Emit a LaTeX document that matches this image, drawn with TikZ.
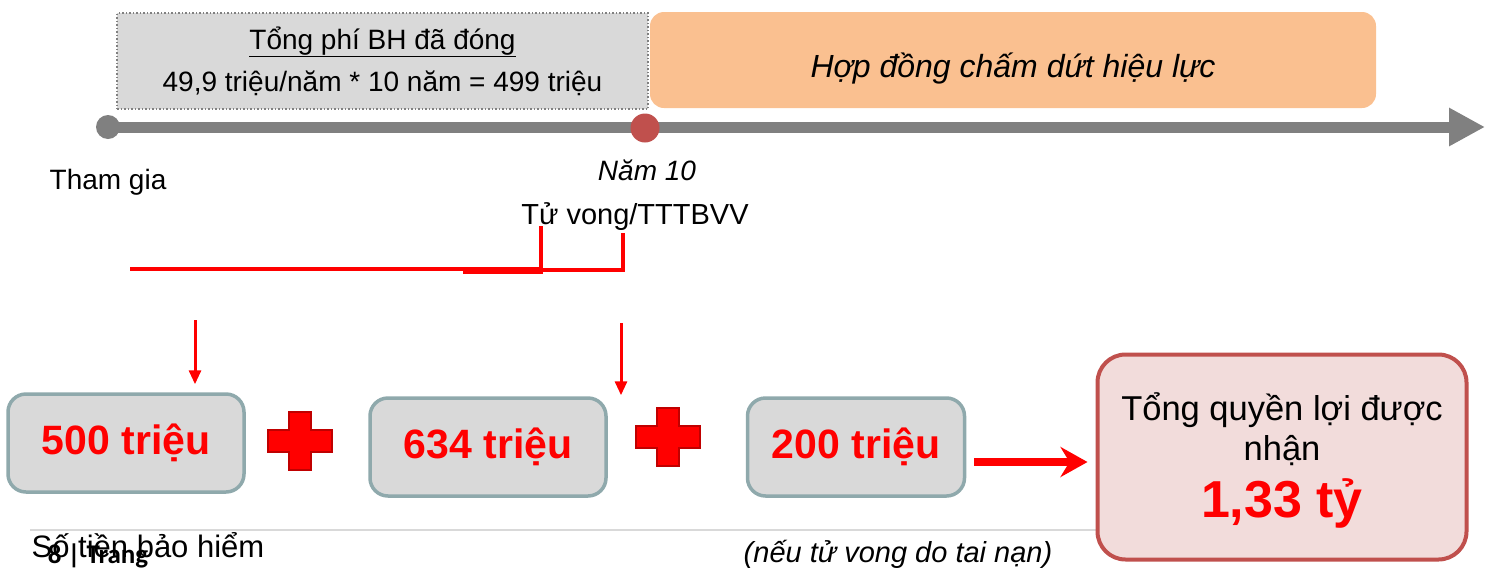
\documentclass[tikz,border=0pt]{standalone}
\usepackage{fontspec}
\setmainfont{Liberation Sans}
\newfontfamily\pagefont{Carlito}
\usetikzlibrary{positioning,arrows.meta,calc}

\definecolor{linegray}{HTML}{808080}
\definecolor{boxgray}{HTML}{D9D9D9}
\definecolor{boxedge}{HTML}{8FA9AC}
\definecolor{peach}{HTML}{FAC090}
\definecolor{brick}{HTML}{C0504D}
\definecolor{pinkfill}{HTML}{F2DCDB}
\definecolor{darkred}{HTML}{C00000}

\tikzset{
  amount/.style={draw=boxedge, line width=3.5pt, fill=boxgray, rounded corners=18pt,
    minimum width=236pt, minimum height=98pt, text=red,
    font=\bfseries\fontsize{41}{49}\selectfont},
  feed/.style={red, line width=3pt, -{Triangle[length=14pt,width=12pt]}},
  bracket/.style={red, line width=4pt},
  plainlbl/.style={font=\fontsize{28}{34}\selectfont, inner sep=0pt},
  plussign/.pic={
    \draw[darkred, fill=red, line width=2pt] (-32,-11) -- (-11,-11) -- (-11,-29) -- (11,-29)
      -- (11,-11) -- (32,-11) -- (32,11) -- (11,11) -- (11,29) -- (-11,29) -- (-11,11)
      -- (-32,11) -- cycle;
  }
}

\begin{document}
\begin{tikzpicture}[x=1pt,y=-1pt]
	\useasboundingbox (0,0) rectangle (1491,571);

	\begin{scope} % Premium paid and lapse
		\node[draw=linegray, dotted, line width=1.5pt, fill=boxgray, minimum width=531pt,
			minimum height=96pt, align=center, font=\fontsize{28}{42}\selectfont]
			(paid) at (382.5,61) {\underline{Tổng phí BH đã đóng}\\49,9 triệu/năm * 10 năm = 499 triệu};
		\node[fill=peach, rounded corners=14pt, minimum width=726pt, minimum height=96pt] (lapse) at (1013,60) {};
		\node[plainlbl, anchor=base, font=\itshape\fontsize{32}{38}\selectfont] (lapselbl) at (1013,77) {Hợp đồng chấm dứt hiệu lực};
	\end{scope}

	\begin{scope} % Time line
		\coordinate (start) at (108,127);
		\coordinate (tlend) at (1485,127);
		\draw[linegray, line width=11pt, -{Triangle[length=36pt,width=36pt]}] (start) -- (tlend);
		\node[circle, fill=linegray, minimum size=24pt, inner sep=0pt] (join) at (start) {};
		\node[circle, fill=brick, minimum size=29pt, inner sep=0pt] (year10) at (645,128) {};
	\end{scope}

	\node[plainlbl] (joinlbl) at (108,182) {Tham gia};
	\node[plainlbl, font=\itshape\fontsize{28}{34}\selectfont] (yearlbl) at (647,170) {Năm 10};
	\node[plainlbl, font=\fontsize{29}{35}\selectfont] (death) at (635,217) {Tử vong/TTTBVV};

	\begin{scope} % Red brackets
		\draw[bracket] (130,269) -- (541,269);
		\draw[bracket] (463,272) -- (541,272) -- (541,226);
		\draw[bracket] (541,270) -- (623,270) -- (623,233);
	\end{scope}

	\begin{scope} % Amounts
		\node[amount] (b500) at (126,443) {500 triệu};
		\node[amount] (b634) at (488,447) {634 triệu};
		\node[amount, minimum width=217pt] (b200) at (856,447) {200 triệu};
		\pic at (300,441) {plussign};
		\pic at (668,437) {plussign};
	\end{scope}

	\coordinate (feed1) at (195,320);
	\coordinate (feed2) at (621,323);
	\draw[feed] (feed1) -- ($(feed1 |- b500.north)+(0,-8)$);
	\draw[feed] (feed2) -- ($(feed2 |- b634.north)+(0,-1)$);

	\draw[boxgray, line width=1.5pt] (30,530) -- (1098,530);

	\begin{scope} % Total
		\node[draw=brick, line width=4pt, fill=pinkfill, rounded corners=28pt, minimum width=369pt,
			minimum height=205pt] (total) at (1282,457) {};
		\node[plainlbl, anchor=base, font=\fontsize{34.5}{40}\selectfont] (totlbl) at (1282,420) {Tổng quyền lợi được};
		\node[plainlbl, anchor=base, font=\fontsize{34.5}{40}\selectfont] (totlbl2) at (1282,460) {nhận};
		\node[plainlbl, anchor=base, text=red, font=\bfseries\fontsize{52}{60}\selectfont] (totval) at (1282,517) {1,33 tỷ};
	\end{scope}

	\draw[red, line width=8pt, -{Stealth[length=27pt,width=30pt,inset=9pt]}]
		($(b200.east)+(8,15)$) -- ($(total.west |- b200.east)+(-8,15)$);

	\node[plainlbl, font=\fontsize{31}{37}\selectfont] (sumlbl) at (148,545) {Số tiền bảo hiểm};
	\node[font=\pagefont\bfseries\fontsize{27}{32}\selectfont, inner sep=0pt] (page) at (98,556) {8 | Trang};
	\node[plainlbl, font=\itshape\fontsize{29}{35}\selectfont] (note) at (898,554) {(nếu tử vong do tai nạn)};
\end{tikzpicture}
\end{document}
